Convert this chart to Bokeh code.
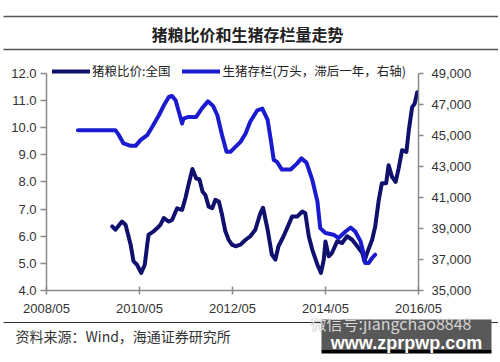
from datetime import datetime
import pandas as pd
from bokeh.plotting import figure
from bokeh.layouts import column
from bokeh.models import (Range1d, LinearAxis, FixedTicker, NumeralTickFormatter,
                          DatetimeTickFormatter, Legend, LegendItem, Label)
from bokeh.embed import file_html
from bokeh.resources import INLINE

# ---------------- data ----------------
title_text = "猪粮比价和生猪存栏量走势"
source_text = "资料来源：Wind，海通证券研究所"
series1_name = "猪粮比价:全国"
series2_name = "生猪存栏(万头，滞后一年，右轴)"

ratio_dates = ["2009-09-29", "2009-10-24", "2009-12-15", "2010-01-12", "2010-02-21", "2010-03-15",
               "2010-04-12", "2010-05-15", "2010-06-12", "2010-07-01", "2010-07-12", "2010-08-21",
               "2010-09-18", "2010-10-12", "2010-11-09", "2010-12-18", "2011-01-12", "2011-02-21",
               "2011-04-01", "2011-04-27", "2011-05-21", "2011-06-21", "2011-07-21", "2011-08-15",
               "2011-09-09", "2011-10-01", "2011-10-27", "2011-11-24", "2011-12-18", "2012-01-15",
               "2012-02-09", "2012-03-06", "2012-04-01", "2012-04-27", "2012-05-24", "2012-07-03",
               "2012-08-12", "2012-09-18", "2012-10-27", "2012-12-06", "2012-12-27", "2013-02-01",
               "2013-03-06", "2013-04-03", "2013-04-27", "2013-06-06", "2013-07-15", "2013-08-12",
               "2013-09-21", "2013-11-01", "2013-11-24", "2013-12-21", "2014-01-18", "2014-02-27",
               "2014-03-27", "2014-04-18", "2014-05-01", "2014-05-27", "2014-06-21", "2014-08-01",
               "2014-09-09", "2014-10-18", "2014-11-27", "2015-01-06", "2015-02-15", "2015-03-03",
               "2015-03-24", "2015-05-03", "2015-05-27", "2015-06-24", "2015-07-18", "2015-08-21",
               "2015-09-09", "2015-10-06", "2015-11-03", "2015-11-27", "2015-12-24", "2016-01-27",
               "2016-02-15", "2016-03-12", "2016-04-01", "2016-04-21"]
ratio_values = [6.36, 6.24, 6.54, 6.42, 5.69, 5.08,
                4.95, 4.65, 4.95, 5.69, 6.06, 6.18,
                6.30, 6.42, 6.67, 6.54, 6.60, 7.03,
                6.97, 7.40, 7.89, 8.48, 8.13, 8.10,
                7.64, 7.52, 7.09, 7.03, 7.34, 7.28,
                6.79, 6.18, 5.87, 5.69, 5.63, 5.69,
                5.87, 6.00, 6.24, 6.85, 7.05, 6.24,
                5.32, 5.14, 5.63, 6.00, 6.42, 6.73,
                6.73, 6.91, 6.85, 6.00, 5.50, 4.95,
                4.65, 5.14, 5.81, 5.26, 5.38, 5.81,
                5.75, 6.00, 5.87, 5.63, 5.38, 5.08,
                5.38, 5.87, 6.36, 7.34, 7.95, 7.95,
                8.62, 8.19, 8.00, 8.50, 9.17, 9.11,
                9.91, 10.76, 10.89, 11.31]

stock_dates = ["2009-01-03", "2009-07-24", "2009-10-24", "2009-11-21", "2009-12-27", "2010-02-21",
               "2010-04-01", "2010-05-09", "2010-07-01", "2010-08-09", "2010-10-01", "2010-11-09",
               "2010-12-18", "2011-01-12", "2011-02-09", "2011-03-03", "2011-04-01", "2011-04-12",
               "2011-05-21", "2011-07-21", "2011-09-03", "2011-10-21", "2011-12-01", "2012-01-03",
               "2012-02-09", "2012-03-15", "2012-04-15", "2012-05-24", "2012-07-03", "2012-08-12",
               "2012-09-18", "2012-11-12", "2012-12-21", "2013-02-01", "2013-02-24", "2013-03-21",
               "2013-04-15", "2013-05-24", "2013-08-01", "2013-09-21", "2013-10-24", "2013-12-03",
               "2014-01-18", "2014-02-27", "2014-03-21", "2014-05-01", "2014-07-03", "2014-08-12",
               "2014-10-06", "2014-11-15", "2014-12-21", "2015-02-01", "2015-02-27", "2015-03-09",
               "2015-04-06", "2015-05-03", "2015-05-27"]
stock_values = [45340, 45340, 45340, 45018, 44485, 44330,
                44330, 44697, 45018, 45551, 46303, 46945,
                47480, 47545, 47266, 46624, 45770, 46090,
                46194, 46194, 46733, 47200, 46900, 46303,
                45018, 43946, 43946, 44267, 44588, 45127,
                45900, 46624, 46733, 46000, 44806, 43413,
                43304, 42800, 42800, 43200, 43522, 43250,
                42128, 40735, 39026, 38706, 38600, 38384,
                38808, 39065, 38808, 38165, 37311, 36779,
                36779, 37097, 37311]

x_tick_dates = ["2008-05-01", "2010-05-01", "2012-05-01", "2014-05-01", "2016-05-01"]
left_min, left_max = 4, 12
right_min, right_max = 35000, 49000
left_ticks = [4, 5, 6, 7, 8, 9, 10, 11, 12]
right_ticks = [35000, 37000, 39000, 41000, 43000, 45000, 47000, 49000]

# ---------------- style / layout ----------------
W = 498
FONT_CJK = "Noto Sans CJK SC"
FONT_NUM = "Liberation Sans"
DARK = "#10106e"
BLUE = "#1a1ad0"
AXIS = "#8a8a8a"
TXT = "#333333"
AXIS_PX = 218        # pixel height of the value axes
HEADROOM_PX = 15     # room above the axes for the legend


def bare(h):
    f = figure(width=W, height=h, x_range=Range1d(0, W), y_range=Range1d(0, h),
               output_backend="svg", toolbar_location=None, min_border=0,
               x_axis_location=None, y_axis_location=None, frame_align=False)
    f.grid.visible = False
    f.outline_line_color = None
    return f


# ---------------- header (page y 0..52) ----------------
top = bare(52)
top.line(x=[3, W], y=[36, 36], line_color="#555555", line_width=1.5)
top.line(x=[3, W], y=[3, 3], line_color="#555555", line_width=1.5)
top.add_layout(Label(x=247, y=19, text=title_text, text_align="center", text_baseline="middle",
                     text_font=FONT_CJK, text_font_size="16px", text_font_style="bold",
                     text_color="#222222"))

# ---------------- main chart (page y 52..318) ----------------
rd = pd.to_datetime(ratio_dates)
sd = pd.to_datetime(stock_dates)
xt = [int(pd.Timestamp(d).value // 10**6) for d in x_tick_dates]

left_top = left_max + HEADROOM_PX * (left_max - left_min) / AXIS_PX
right_top = right_max + HEADROOM_PX * (right_max - right_min) / AXIS_PX

p = figure(width=W, height=266, x_axis_type="datetime",
           x_range=Range1d(datetime(2008, 5, 1), datetime(2016, 5, 1)),
           y_range=Range1d(left_min, left_top), output_backend="svg", toolbar_location=None,
           min_border_left=46, min_border_right=80, min_border_top=6, min_border_bottom=27,
           frame_align=False)
p.grid.visible = False
p.outline_line_color = None
p.extra_y_ranges = {"r": Range1d(right_min, right_top)}

r1 = p.line(x=rd, y=ratio_values, line_color=DARK, line_width=4, line_join="round", line_cap="round")
r2 = p.line(x=sd, y=stock_values, y_range_name="r", line_color=BLUE, line_width=4,
            line_join="round", line_cap="round")

ry = LinearAxis(y_range_name="r")
p.add_layout(ry, "right")

for ax in [p.xaxis[0], p.yaxis[0], ry]:
    ax.axis_line_color = AXIS
    ax.axis_line_width = 1.5
    ax.major_tick_line_color = AXIS
    ax.major_tick_line_width = 1.5
    ax.minor_tick_line_color = None
    ax.major_label_text_font = FONT_NUM
    ax.major_label_text_font_size = "13px"
    ax.major_label_text_color = TXT

p.xaxis[0].ticker = FixedTicker(ticks=xt)
fmt = "%Y/%m"
p.xaxis[0].formatter = DatetimeTickFormatter(years=fmt, months=fmt, days=fmt, hours=fmt,
                                             hourmin=fmt, minutes=fmt, minsec=fmt, seconds=fmt,
                                             milliseconds=fmt, microseconds=fmt)
p.xaxis[0].major_tick_in = 4
p.xaxis[0].major_tick_out = 4
p.xaxis[0].major_label_standoff = 6

p.yaxis[0].ticker = FixedTicker(ticks=left_ticks)
p.yaxis[0].formatter = NumeralTickFormatter(format="0.0")
p.yaxis[0].bounds = (left_min, left_max)
p.yaxis[0].major_tick_in = 0
p.yaxis[0].major_tick_out = 6
p.yaxis[0].major_label_standoff = 4

ry.ticker = FixedTicker(ticks=right_ticks)
ry.formatter = NumeralTickFormatter(format="0,0")
ry.bounds = (right_min, right_max)
ry.major_tick_in = 0
ry.major_tick_out = 5
ry.major_label_standoff = 8

legend = Legend(items=[LegendItem(label=series1_name, renderers=[r1]),
                       LegendItem(label=series2_name, renderers=[r2])],
                location=(6, 210), orientation="horizontal", padding=0, margin=0,
                spacing=12, glyph_width=38, glyph_height=14, label_height=14,
                label_standoff=2, border_line_color=None, background_fill_alpha=0,
                label_text_font=FONT_CJK, label_text_font_size="12.5px",
                label_text_color="#222222")
p.add_layout(legend)

# ---------------- footer (page y 318..360) ----------------
bot = bare(42)
bot.add_layout(Label(x=310, y=38, text="微信号:jiangchao8848", text_align="left",
                     text_baseline="middle", text_font=FONT_CJK, text_font_size="16px",
                     text_color="#d4d4d4"))
bot.line(x=[3, W], y=[38, 38], line_color="#333333", line_width=1)
bot.add_layout(Label(x=15, y=25, text=source_text, text_align="left", text_baseline="middle",
                     text_font=FONT_CJK, text_font_size="14px", text_color=TXT))
bot.quad(left=[321], right=[491], bottom=[11], top=[41], fill_color="#585858", line_color=None)
bot.quad(left=[321], right=[491], bottom=[7], top=[11], fill_color="#000000", line_color=None)
bot.add_layout(Label(x=406, y=18, text="www.zprpwp.com", text_align="center",
                     text_baseline="alphabetic", text_font=FONT_NUM, text_font_size="18px",
                     text_font_style="bold", text_color="#ffffff"))

layout = column(top, p, bot, spacing=0)
open("out.html", "w").write(file_html(layout, INLINE))
